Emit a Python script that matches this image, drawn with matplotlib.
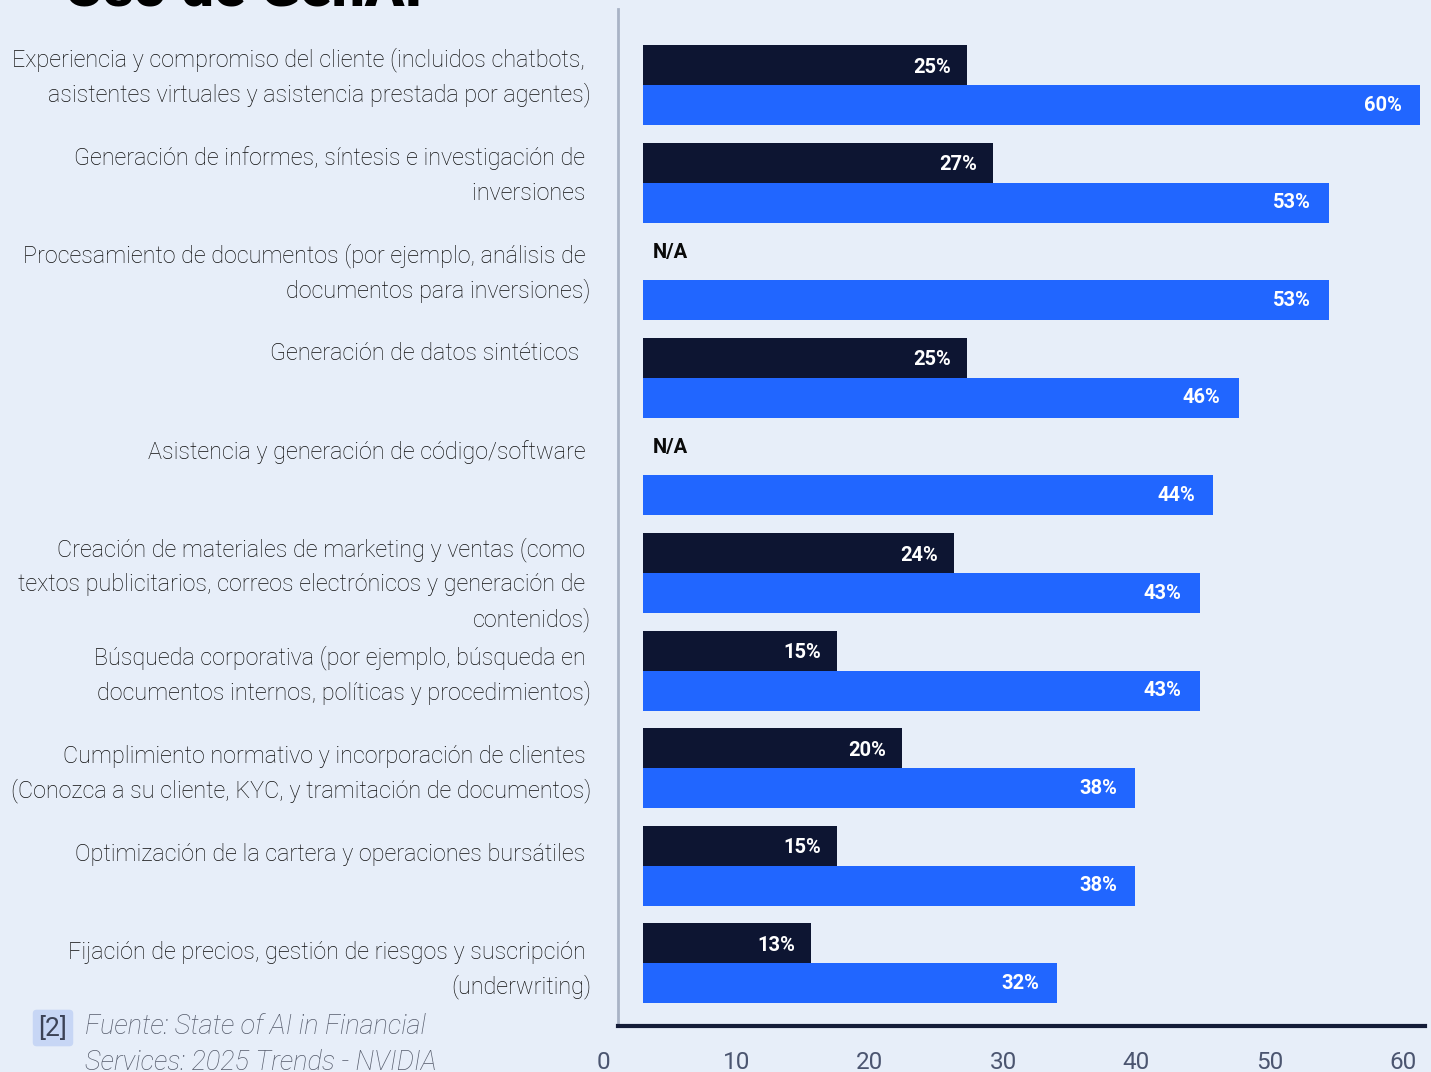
import numpy as np
import matplotlib
matplotlib.use("Agg")
import matplotlib.pyplot as plt

# ---------------- data ----------------
categories = [
    ["Experiencia y compromiso del cliente (incluidos chatbots, ",
     "asistentes virtuales y asistencia prestada por agentes)"],
    ["Generación de informes, síntesis e investigación de ",
     "inversiones "],
    ["Procesamiento de documentos (por ejemplo, análisis de ",
     "documentos para inversiones)"],
    ["Generación de datos sintéticos  "],
    ["Asistencia y generación de código/software "],
    ["Creación de materiales de marketing y ventas (como ",
     "textos publicitarios, correos electrónicos y generación de ",
     "contenidos)"],
    ["Búsqueda corporativa (por ejemplo, búsqueda en ",
     "documentos internos, políticas y procedimientos)"],
    ["Cumplimiento normativo y incorporación de clientes ",
     "(Conozca a su cliente, KYC, y tramitación de documentos)"],
    ["Optimización de la cartera y operaciones bursátiles "],
    ["Fijación de precios, gestión de riesgos y suscripción ",
     "(underwriting)"],
]
values_2024 = [25, 27, np.nan, 25, np.nan, 24, 15, 20, 15, 13]
values_2025 = [60, 53, 53, 46, 44, 43, 43, 38, 38, 32]
xticks = [0, 10, 20, 30, 40, 50, 60]
title = "Uso de GenAI"
note_tag = "[2]"
note_lines = ["Fuente: State of AI in Financial",
              "Services: 2025 Trends - NVIDIA"]

# ---------------- style ----------------
BG = "#e7eef9"
DARK = "#0d1532"
BLUE = "#2166ff"
W, H = 1431, 1072
FONT = ["Roboto", "DejaVu Sans"]
plt.rcParams["font.family"] = FONT

fig = plt.figure(figsize=(W / 100, H / 100), dpi=100, facecolor=BG)
ax = fig.add_axes([603 / W, 1 - 1026 / H, (1425 - 603) / W, (1026 - 9) / H])
ax.set_facecolor(BG)

n = len(values_2025)
y = np.arange(n)
bh = 0.41
ax.barh(y - bh / 2, values_2024, height=bh, color=DARK)
ax.barh(y + bh / 2, values_2025, height=bh, color=BLUE)

ax.set_xlim(-3.09, 60.39)
ax.set_ylim(9.641, -0.779)

# value labels
for yi, v in zip(y, values_2024):
    if np.isnan(v):
        ax.annotate("N/A", xy=(0, yi - bh / 2), xytext=(10, 8),
                    textcoords="offset pixels", ha="left", va="center",
                    fontsize=14.5, fontweight="bold", color="#0a0a0a")
    else:
        ax.annotate(f"{v:.0f}%", xy=(v, yi - bh / 2), xytext=(-16, -2),
                    textcoords="offset pixels", ha="right", va="center",
                    fontsize=14.5, fontweight="bold", color="white")
for yi, v in zip(y, values_2025):
    ax.annotate(f"{v:.0f}%", xy=(v, yi + bh / 2), xytext=(-18, 0),
                textcoords="offset pixels", ha="right", va="center",
                fontsize=14.5, fontweight="bold", color="white")

# spines
for s in ("top", "right"):
    ax.spines[s].set_visible(False)
ax.spines["left"].set_position(("data", -1.93))
ax.spines["left"].set_color("#a9b3c6")
ax.spines["left"].set_linewidth(2.0)
ax.spines["bottom"].set_color("#141c38")
ax.spines["bottom"].set_linewidth(3.0)
ax.spines["bottom"].set_bounds(-1.93, 60.39)
ax.set_yticks([])
ax.set_xticks([])

# tick labels via secondary axis
sec = ax.secondary_xaxis("bottom", functions=(lambda u: (u + 3.09) / 1.030,
                                               lambda v: v * 1.030 - 3.09))
sec.set_xticks(xticks)
sec.tick_params(length=0, pad=18, labelsize=17.5, labelcolor="#4b5570")
sec.spines["bottom"].set_visible(False)

# category labels (stacked text block on the left)
extra = 0
for i, lines in enumerate(categories):
    top_px = 60 + 98 * i + extra
    for k, line in enumerate(lines):
        fig.text(591 / W, 1 - (top_px + 35 * k) / H, line,
                 ha="right", va="center", fontsize=16.8, fontweight="light",
                 color="#0e0e0e")
    if len(lines) > 2:
        extra += 10

# title
fig.text(65 / W, 1 - 6 / H, title, ha="left", va="baseline",
         fontsize=42, fontweight="black", color="#000000")

# footnote
fig.text(53 / W, 1 - 1028 / H, note_tag, ha="center", va="center",
         fontsize=19, color="#3c4256",
         bbox=dict(boxstyle="round,pad=0.22,rounding_size=0.15",
                   facecolor="#c7d6f5", edgecolor="none"))
for k, line in enumerate(note_lines):
    fig.text(85 / W, 1 - (1027 + 35 * k) / H, line, ha="left", va="center",
             fontsize=19.5, fontstyle="italic", fontweight="light",
             color="#555b6b")

fig.savefig("out.png", dpi=100, facecolor=BG)
